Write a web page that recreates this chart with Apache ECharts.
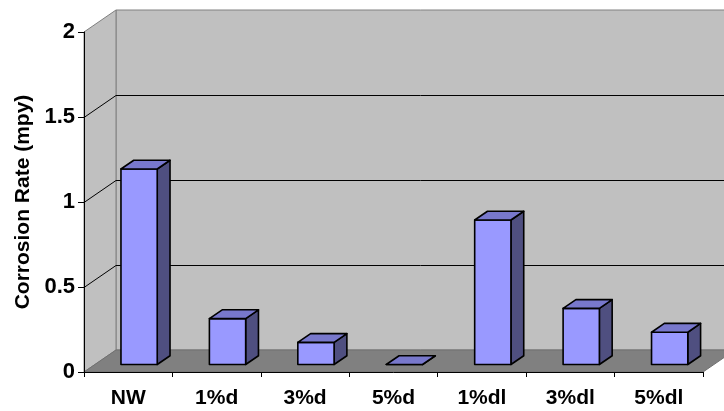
<!DOCTYPE html>
<html>
<head>
<meta charset="utf-8">
<script src="https://cdn.jsdelivr.net/npm/echarts@6/dist/echarts.min.js"></script>
<style>
  html, body { margin: 0; padding: 0; background: #ffffff; }
  #chart { width: 724px; height: 411px; }
</style>
</head>
<body>
<div id="chart"></div>
<script>
// Corrosion rate per treatment
const categories = ['NW', '1%d', '3%d', '5%d', '1%dl', '3%dl', '5%dl'];
const corrosionRates = [1.15, 0.27, 0.13, 0, 0.85, 0.33, 0.19];
const yTicks = [0, 0.5, 1, 1.5, 2];

// Oblique projection used for the depth direction of the box
const DEPTH = { x: 32, y: -22 };
const BAR_FRONT = 0.34;   // depth fraction of a bar's front face
const BAR_BACK = 0.74;    // depth fraction of a bar's back face
const BAR_WIDTH = 0.41;   // share of a category band

const FONT = '"Liberation Sans", Arial, Helvetica, sans-serif';

const chart = echarts.init(document.getElementById('chart'), null, { renderer: 'canvas' });

function poly(points, fill, stroke, lw) {
  return {
    type: 'polygon',
    shape: { points: points },
    style: { fill: fill, stroke: stroke, lineWidth: lw || 1, lineJoin: 'round' }
  };
}

// Back wall, side wall, floor and the wall gridlines
function renderBox(params, api) {
  const cs = params.coordSys;
  const x0 = cs.x, x1 = cs.x + cs.width;
  const yTop = api.coord([0, yTicks[yTicks.length - 1]])[1];
  const yBot = api.coord([0, yTicks[0]])[1];
  const dx = DEPTH.x, dy = DEPTH.y;
  const children = [];
  children.push(poly([[x0 + dx, yTop + dy], [x1 + dx, yTop + dy], [x1 + dx, yBot + dy], [x0 + dx, yBot + dy]], '#c0c0c0', '#808080'));
  children.push(poly([[x0, yTop], [x0 + dx, yTop + dy], [x0 + dx, yBot + dy], [x0, yBot]], '#c0c0c0', '#808080'));
  children.push(poly([[x0, yBot], [x1, yBot], [x1 + dx, yBot + dy], [x0 + dx, yBot + dy]], '#808080', '#707070'));
  yTicks.slice(1, -1).forEach(function (v) {
    const y = Math.round(api.coord([0, v])[1]) + 0.5;
    children.push({
      type: 'polyline',
      shape: { points: [[x0, y], [x0 + dx, y + dy], [x1 + dx, y + dy]] },
      style: { stroke: '#000000', lineWidth: 1, fill: null }
    });
  });
  return { type: 'group', children: children };
}

// One prism per category: side, front, then top face
function renderBar(params, api) {
  const i = api.value(0), v = api.value(1);
  const base = api.coord([i, 0]);
  const top = api.coord([i, v]);
  const half = api.size([1, 0])[0] * BAR_WIDTH / 2;
  const fx = DEPTH.x * BAR_FRONT, fy = DEPTH.y * BAR_FRONT;
  const bx = DEPTH.x * BAR_BACK, by = DEPTH.y * BAR_BACK;
  const L = base[0] - half, R = base[0] + half, B = base[1], T = top[1];
  return {
    type: 'group',
    children: [
      poly([[R + fx, T + fy], [R + bx, T + by], [R + bx, B + by], [R + fx, B + fy]], '#4f4f80', '#000000', 1.6),
      poly([[L + fx, T + fy], [R + fx, T + fy], [R + fx, B + fy], [L + fx, B + fy]], '#9999ff', '#000000', 1.6),
      poly([[L + fx, T + fy], [L + bx, T + by], [R + bx, T + by], [R + fx, T + fy]], '#7878cc', '#000000', 1.6)
    ]
  };
}

const option = {
  animation: false,
  backgroundColor: '#ffffff',
  grid: { left: 84, top: 32, width: 619, height: 340, containLabel: false },
  xAxis: {
    type: 'category',
    data: categories,
    boundaryGap: true,
    axisLine: { show: true, lineStyle: { color: '#000000', width: 1 } },
    axisTick: { show: true, alignWithLabel: false, length: 5, lineStyle: { color: '#000000' } },
    axisLabel: { color: '#000000', fontFamily: FONT, fontWeight: 'bold', fontSize: 21, margin: 16 },
    splitLine: { show: false }
  },
  yAxis: {
    type: 'value',
    min: 0,
    max: 2,
    interval: 0.5,
    axisLine: { show: true, lineStyle: { color: '#000000', width: 1 } },
    axisTick: { show: true, length: 6, lineStyle: { color: '#000000' } },
    axisLabel: { color: '#000000', fontFamily: FONT, fontWeight: 'bold', fontSize: 22, margin: 9 },
    splitLine: { show: false },
    name: 'Corrosion Rate (mpy)',
    nameLocation: 'middle',
    nameRotate: 90,
    nameGap: 50,
    nameTextStyle: { color: '#000000', fontFamily: FONT, fontWeight: 'bold', fontSize: 21 }
  },
  series: [
    {
      type: 'custom',
      z: -1,
      silent: true,
      renderItem: renderBox,
      data: [[0, 0]]
    },
    {
      type: 'custom',
      z: 2,
      renderItem: renderBar,
      data: categories.map(function (c, i) { return [i, corrosionRates[i]]; })
    }
  ]
};

chart.setOption(option);
</script>
</body>
</html>
